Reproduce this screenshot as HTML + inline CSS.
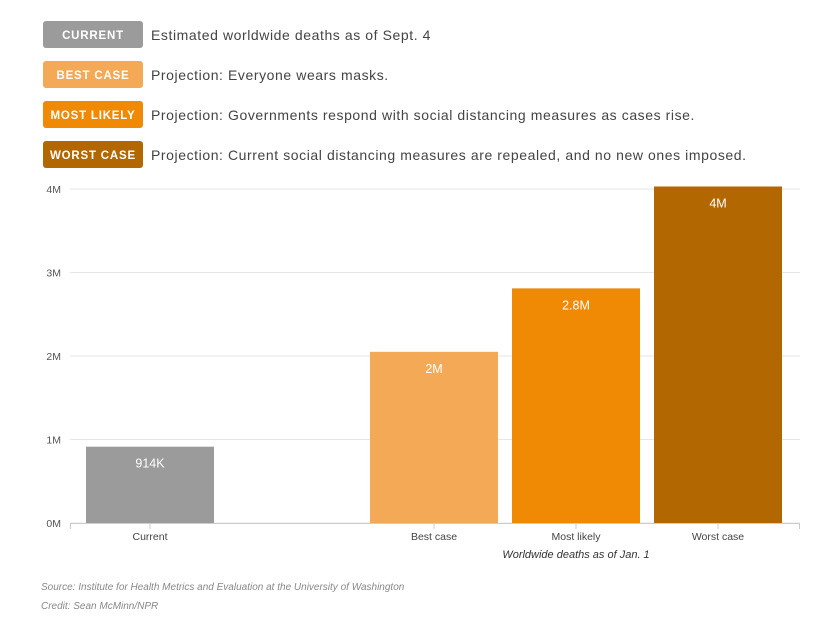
<!DOCTYPE html>
<html><head><meta charset="utf-8"><style>
body{margin:0;background:#fff;width:816px;height:628px;overflow:hidden;font-family:"Liberation Sans",sans-serif}
.leg{position:absolute;left:43px;height:27px;display:flex;align-items:center}
.box{width:100px;height:27px;line-height:30px;border-radius:3px;color:#fff;font-size:11.5px;font-weight:bold;letter-spacing:0.8px;text-align:center;overflow:hidden}
.txt{margin-left:8px;font-size:14px;color:#444;letter-spacing:0.58px}
.ft{position:absolute;left:41px;font-size:10px;font-style:italic;color:#888}
</style></head><body>
<div class="leg" style="top:21px"><div class="box" style="background:#9b9b9b">CURRENT</div><div class="txt">Estimated worldwide deaths as of Sept. 4</div></div>
<div class="leg" style="top:61px"><div class="box" style="background:#f4a957">BEST CASE</div><div class="txt">Projection: Everyone wears masks.</div></div>
<div class="leg" style="top:101px"><div class="box" style="background:#f08a05">MOST LIKELY</div><div class="txt">Projection: Governments respond with social distancing measures as cases rise.</div></div>
<div class="leg" style="top:141px"><div class="box" style="background:#b36700">WORST CASE</div><div class="txt">Projection: Current social distancing measures are repealed, and no new ones imposed.</div></div>
<svg id="chart" width="816" height="628" style="position:absolute;left:0;top:0"></svg>
<div class="ft" style="top:582px">Source: Institute for Health Metrics and Evaluation at the University of Washington</div>
<div class="ft" style="top:601px">Credit: Sean McMinn/NPR</div>
<script>
const categories=["Current","","Best case","Most likely","Worst case"];
const values=[0.914,null,2.05,2.81,4.03];
const valueLabels=["914K","","2M","2.8M","4M"];
const yTicks=[0,1,2,3,4];
const yTickLabels=["0M","1M","2M","3M","4M"];
const colors=["#9b9b9b","","#f4a957","#f08a05","#b36700"];
const NS="http://www.w3.org/2000/svg",svg=document.getElementById('chart');
const y0=523,pxPerM=83.5,xStart=79,step=142,bw=128,axL=70,axR=800;
const y=v=>y0-v*pxPerM;const xc=i=>xStart+step*(i+0.5);
function mk(t,a,txt){const e=document.createElementNS(NS,t);for(const k in a)e.setAttribute(k,a[k]);if(txt!=null)e.textContent=txt;svg.appendChild(e);return e;}
yTicks.forEach((t,i)=>{
 let g=mk('line',{x1:axL,x2:axR,y1:y(t),y2:y(t),stroke:'#e6e6e6'});
 
 
 let l=mk('text',{x:61,y:y(t)+4,'text-anchor':'end','font-size':10.5,fill:'#555'},yTickLabels[i]);
 
 
});
let ax=mk('line',{x1:axL,x2:axR,y1:y0+0.5,y2:y0+0.5,stroke:'#ccc'});


[axL+0.5,axR-0.5].forEach(x=>{mk('line',{x1:x,x2:x,y1:y0,y2:y0+6,stroke:'#ccc'});});
categories.forEach((c,i)=>{
 if(values[i]==null)return;
 let r=mk('rect',{x:xc(i)-bw/2,y:y(values[i]),width:bw,height:y0-y(values[i]),fill:colors[i]});
 
 
 let v=mk('text',{x:xc(i),y:y(values[i])+21,'text-anchor':'middle','font-size':12.5,fill:'#fff'},valueLabels[i]);
 
 
 mk('line',{x1:xc(i),x2:xc(i),y1:y0,y2:y0+6,stroke:'#ccc'});
 let t=mk('text',{x:xc(i),y:540,'text-anchor':'middle','font-size':10.5,fill:'#444'},c);
 
 
});
let at=mk('text',{x:576,y:558,'text-anchor':'middle','font-size':11,'font-style':'italic',fill:'#333'},'Worldwide deaths as of Jan. 1');


</script>
</body></html>
